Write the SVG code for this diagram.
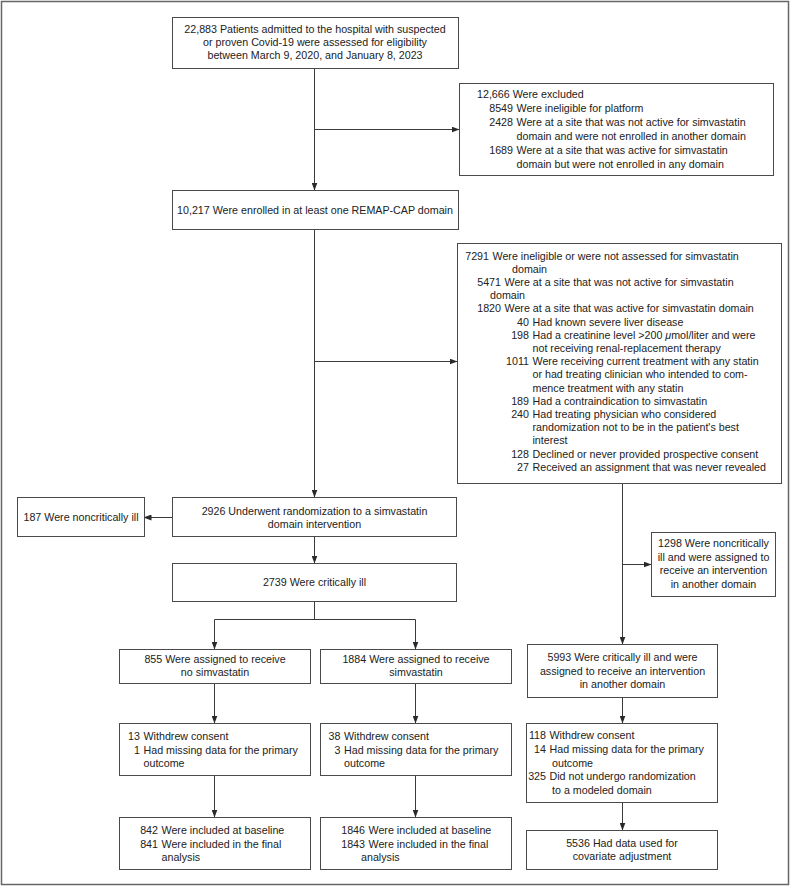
<svg xmlns="http://www.w3.org/2000/svg" width="791" height="886" viewBox="0 0 791 886">
<style>
  .box { fill: #ffffff; stroke: #4a4a4a; stroke-width: 1; }
  .ln { fill: none; stroke: #3a3a3a; stroke-width: 1; }
  text { font-family: "Liberation Sans", Arial, sans-serif; font-size: 10.7px; fill: #222222; }
  .c { text-anchor: middle; }
  .r { text-anchor: end; }
</style>
<defs>
  <marker id="arr" markerWidth="8" markerHeight="6" refX="7.5" refY="3" orient="auto" markerUnits="userSpaceOnUse">
    <path d="M0,0 L8,3 L0,6 z" fill="#2a2a2a"/>
  </marker>
</defs>
<rect x="1.5" y="1.5" width="787" height="883" fill="#ffffff" stroke="#666666" stroke-width="1.5"/>

<g id="connectors">
  <line class="ln" x1="314.5" y1="68" x2="314.5" y2="190" marker-end="url(#arr)"/>
  <line class="ln" x1="314.5" y1="129.5" x2="459" y2="129.5" marker-end="url(#arr)"/>
  <line class="ln" x1="314.5" y1="229" x2="314.5" y2="497" marker-end="url(#arr)"/>
  <line class="ln" x1="314.5" y1="361.5" x2="457" y2="361.5" marker-end="url(#arr)"/>
  <line class="ln" x1="172" y1="517.5" x2="144" y2="517.5" marker-end="url(#arr)"/>
  <line class="ln" x1="314.5" y1="536" x2="314.5" y2="563" marker-end="url(#arr)"/>
  <polyline class="ln" points="314.5,601 314.5,619.5"/>
  <line class="ln" x1="214.5" y1="619.5" x2="415.5" y2="619.5"/>
  <line class="ln" x1="214.5" y1="619.5" x2="214.5" y2="649" marker-end="url(#arr)"/>
  <line class="ln" x1="415.5" y1="619.5" x2="415.5" y2="649" marker-end="url(#arr)"/>
  <line class="ln" x1="214.5" y1="683" x2="214.5" y2="723" marker-end="url(#arr)"/>
  <line class="ln" x1="415.5" y1="683" x2="415.5" y2="723" marker-end="url(#arr)"/>
  <line class="ln" x1="214.5" y1="775" x2="214.5" y2="817" marker-end="url(#arr)"/>
  <line class="ln" x1="415.5" y1="775" x2="415.5" y2="817" marker-end="url(#arr)"/>
  <line class="ln" x1="622.5" y1="483" x2="622.5" y2="644" marker-end="url(#arr)"/>
  <line class="ln" x1="622.5" y1="564.5" x2="651" y2="564.5" marker-end="url(#arr)"/>
  <line class="ln" x1="622.5" y1="697" x2="622.5" y2="723" marker-end="url(#arr)"/>
  <line class="ln" x1="622.5" y1="802" x2="622.5" y2="830" marker-end="url(#arr)"/>
</g>

<g id="n-assessed">
  <rect class="box" x="172.5" y="17.5" width="286" height="51"/>
  <text class="c" x="315" y="33">22,883 Patients admitted to the hospital with suspected</text>
  <text class="c" x="315" y="46">or proven Covid-19 were assessed for eligibility</text>
  <text class="c" x="315" y="59">between March 9, 2020, and January 8, 2023</text>
</g>

<g id="n-excluded">
  <rect class="box" x="459.5" y="83.5" width="314" height="92"/>
  <text x="477" y="98">12,666 Were excluded</text>
  <text class="r" x="513" y="112">8549</text><text x="516.5" y="112">Were ineligible for platform</text>
  <text class="r" x="513" y="126">2428</text><text x="516.5" y="126">Were at a site that was not active for simvastatin</text>
  <text x="516.5" y="140">domain and were not enrolled in another domain</text>
  <text class="r" x="513" y="154">1689</text><text x="516.5" y="154">Were at a site that was active for simvastatin</text>
  <text x="516.5" y="168">domain but were not enrolled in any domain</text>
</g>

<g id="n-enrolled">
  <rect class="box" x="172.5" y="190.5" width="286" height="39"/>
  <text class="c" x="315" y="214">10,217 Were enrolled in at least one REMAP-CAP domain</text>
</g>

<g id="n-ineligible">
  <rect class="box" x="457.5" y="243.5" width="324" height="240"/>
  <text class="r" x="489" y="259.5">7291</text><text x="492.5" y="259.5">Were ineligible or were not assessed for simvastatin</text>
  <text x="512" y="272.7">domain</text>
  <text class="r" x="501" y="285.9">5471</text><text x="504.5" y="285.9">Were at a site that was not active for simvastatin</text>
  <text x="490" y="299.1">domain</text>
  <text class="r" x="501" y="312.3">1820</text><text x="504.5" y="312.3">Were at a site that was active for simvastatin domain</text>
  <text class="r" x="529" y="325.5">40</text><text x="532.5" y="325.5">Had known severe liver disease</text>
  <text class="r" x="529" y="338.7">198</text><text x="532.5" y="338.7">Had a creatinine level &gt;200 <tspan font-style="italic">μ</tspan>mol/liter and were</text>
  <text x="532.5" y="351.9">not receiving renal-replacement therapy</text>
  <text class="r" x="529" y="365.1">1011</text><text x="532.5" y="365.1">Were receiving current treatment with any statin</text>
  <text x="532.5" y="378.3">or had treating clinician who intended to com-</text>
  <text x="532.5" y="391.5">mence treatment with any statin</text>
  <text class="r" x="529" y="404.7">189</text><text x="532.5" y="404.7">Had a contraindication to simvastatin</text>
  <text class="r" x="529" y="417.9">240</text><text x="532.5" y="417.9">Had treating physician who considered</text>
  <text x="532.5" y="431.1">randomization not to be in the patient's best</text>
  <text x="532.5" y="444.3">interest</text>
  <text class="r" x="529" y="457.5">128</text><text x="532.5" y="457.5">Declined or never provided prospective consent</text>
  <text class="r" x="529" y="470.7">27</text><text x="532.5" y="470.7">Received an assignment that was never revealed</text>
</g>

<g id="n-noncritical">
  <rect class="box" x="17.5" y="497.5" width="127" height="39"/>
  <text class="c" x="81" y="521">187 Were noncritically ill</text>
</g>

<g id="n-randomized">
  <rect class="box" x="172.5" y="497.5" width="284" height="39"/>
  <text class="c" x="314.5" y="514.5">2926 Underwent randomization to a simvastatin</text>
  <text class="c" x="314.5" y="528">domain intervention</text>
</g>

<g id="n-critical">
  <rect class="box" x="172.5" y="563.5" width="284" height="38"/>
  <text class="c" x="314.5" y="586">2739 Were critically ill</text>
</g>

<g id="n-no-simva">
  <rect class="box" x="119.5" y="649.5" width="191" height="34"/>
  <text class="c" x="215" y="663">855 Were assigned to receive</text>
  <text class="c" x="215" y="676">no simvastatin</text>
</g>

<g id="n-simva">
  <rect class="box" x="320.5" y="649.5" width="191" height="34"/>
  <text class="c" x="416" y="663">1884 Were assigned to receive</text>
  <text class="c" x="416" y="676">simvastatin</text>
</g>

<g id="n-withdrew-no">
  <rect class="box" x="119.5" y="723.5" width="191" height="52"/>
  <text class="r" x="140" y="740">13</text><text x="143.5" y="740">Withdrew consent</text>
  <text class="r" x="140" y="753.5">1</text><text x="143.5" y="753.5">Had missing data for the primary</text>
  <text x="143.5" y="767">outcome</text>
</g>

<g id="n-withdrew-simva">
  <rect class="box" x="320.5" y="723.5" width="191" height="52"/>
  <text class="r" x="340.5" y="740">38</text><text x="344" y="740">Withdrew consent</text>
  <text class="r" x="340.5" y="753.5">3</text><text x="344" y="753.5">Had missing data for the primary</text>
  <text x="344" y="767">outcome</text>
</g>

<g id="n-included-no">
  <rect class="box" x="119.5" y="817.5" width="191" height="52"/>
  <text class="r" x="158" y="834">842</text><text x="161.5" y="834">Were included at baseline</text>
  <text class="r" x="158" y="847.5">841</text><text x="161.5" y="847.5">Were included in the final</text>
  <text x="161.5" y="861">analysis</text>
</g>

<g id="n-included-simva">
  <rect class="box" x="320.5" y="817.5" width="191" height="52"/>
  <text class="r" x="365" y="834">1846</text><text x="368.5" y="834">Were included at baseline</text>
  <text class="r" x="365" y="847.5">1843</text><text x="368.5" y="847.5">Were included in the final</text>
  <text x="361" y="861">analysis</text>
</g>

<g id="n-other-noncritical">
  <rect class="box" x="651.5" y="532.5" width="124" height="64"/>
  <text class="c" x="713.5" y="547">1298 Were noncritically</text>
  <text class="c" x="713.5" y="560.5">ill and were assigned to</text>
  <text class="c" x="713.5" y="574">receive an intervention</text>
  <text class="c" x="713.5" y="587.5">in another domain</text>
</g>

<g id="n-other-critical">
  <rect class="box" x="527.5" y="644.5" width="190" height="53"/>
  <text class="c" x="622.5" y="661">5993 Were critically ill and were</text>
  <text class="c" x="622.5" y="674.5">assigned to receive an intervention</text>
  <text class="c" x="622.5" y="688">in another domain</text>
</g>

<g id="n-other-withdrew">
  <rect class="box" x="526.5" y="723.5" width="191" height="79"/>
  <text class="r" x="546" y="739">118</text><text x="549.5" y="739">Withdrew consent</text>
  <text class="r" x="546" y="753">14</text><text x="549.5" y="753">Had missing data for the primary</text>
  <text x="552" y="766.5">outcome</text>
  <text class="r" x="546" y="780">325</text><text x="549.5" y="780">Did not undergo randomization</text>
  <text x="552" y="793.5">to a modeled domain</text>
</g>

<g id="n-covariate">
  <rect class="box" x="526.5" y="830.5" width="191" height="39"/>
  <text class="c" x="622" y="847">5536 Had data used for</text>
  <text class="c" x="622" y="860">covariate adjustment</text>
</g>
</svg>
